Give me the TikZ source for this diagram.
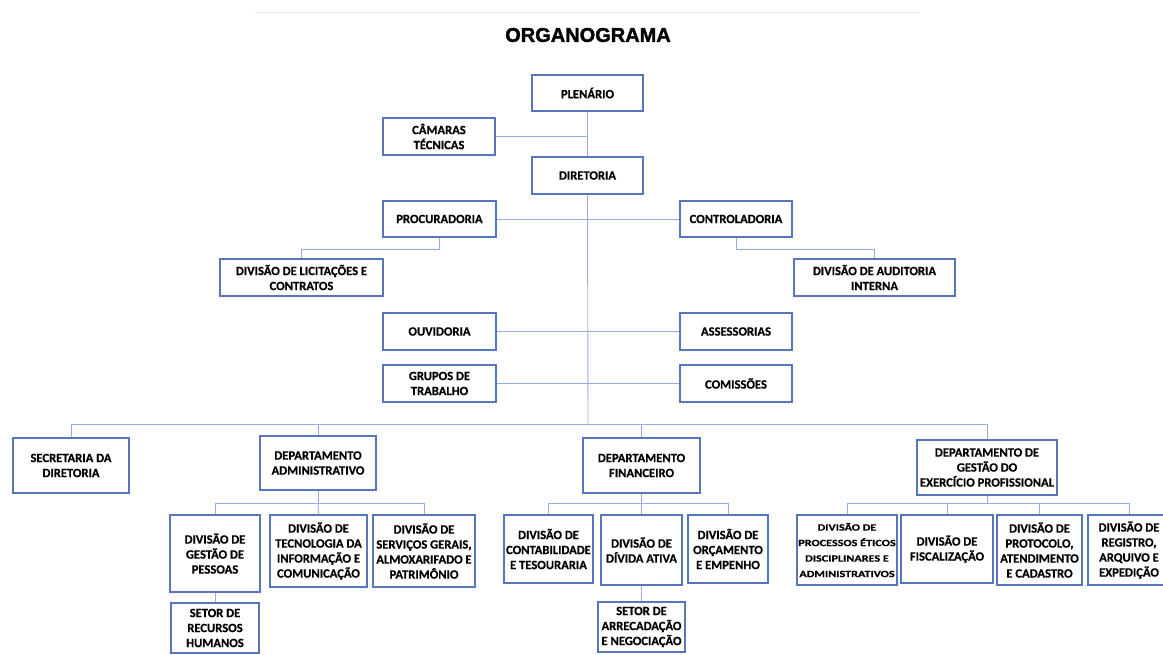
\documentclass[tikz,border=0pt]{standalone}
\usepackage{fontspec}
\setmainfont{Carlito}[BoldFeatures={FakeBold=0.5}]
\newfontfamily\titlefont{Liberation Sans}[BoldFeatures={FakeBold=1.6}]
\newfontfamily\widefont{Carlito}[FakeStretch=1.28, BoldFeatures={FakeBold=0.5}]
\definecolor{boxblue}{RGB}{88,118,190}
\definecolor{lineblue}{RGB}{150,175,222}
\begin{document}
\begin{tikzpicture}[x=1pt,y=-1pt,
  box/.style={draw=boxblue, line width=1.2pt, fill=white, rectangle, align=center,
    inner sep=1pt, font=\bfseries\fontsize{12.6}{15}\selectfont},
  conn/.style={draw=lineblue, line width=0.9pt}]
\useasboundingbox (0,0) rectangle (1163,655);
\draw[gray!20, line width=0.8pt] (255,12) -- (920,12);
\node[font=\titlefont\bfseries\fontsize{20}{24}\selectfont] (title) at (588,35) {ORGANOGRAMA};

% boxes
\node[box, minimum width=111pt, minimum height=36pt] (plen) at (587.5,93) {PLENÁRIO};
\node[box, minimum width=112pt, minimum height=37pt] (cam) at (439,136.5) {CÂMARAS\\TÉCNICAS};
\node[box, minimum width=111pt, minimum height=37pt] (dir) at (587.5,175.5) {DIRETORIA};
\node[box, minimum width=113pt, minimum height=36pt] (proc) at (439.5,219) {PROCURADORIA};
\node[box, minimum width=112pt, minimum height=36pt] (ctrl) at (736,219) {CONTROLADORIA};
\node[box, minimum width=163pt, minimum height=37pt] (lic) at (301.5,277.5) {DIVISÃO DE LICITAÇÕES E\\CONTRATOS};
\node[box, minimum width=161pt, minimum height=37pt] (aud) at (874.5,277.5) {DIVISÃO DE AUDITORIA\\INTERNA};
\node[box, minimum width=113pt, minimum height=37pt] (ouv) at (439.5,331.5) {OUVIDORIA};
\node[box, minimum width=112pt, minimum height=37pt] (ass) at (736,331.5) {ASSESSORIAS};
\node[box, minimum width=113pt, minimum height=37pt] (grp) at (439.5,383.5) {GRUPOS DE\\TRABALHO};
\node[box, minimum width=112pt, minimum height=37pt] (com) at (736,383.5) {COMISSÕES};

\node[box, minimum width=116pt, minimum height=55pt] (sec) at (71,465.5) {SECRETARIA DA\\DIRETORIA};
\node[box, minimum width=116pt, minimum height=54pt] (adm) at (318,463) {DEPARTAMENTO\\ADMINISTRATIVO};
\node[box, minimum width=117pt, minimum height=55pt] (fin) at (641.5,465.5) {DEPARTAMENTO\\FINANCEIRO};
\node[box, minimum width=140pt, minimum height=55pt] (gep) at (987,467.5) {DEPARTAMENTO DE\\GESTÃO DO\\EXERCÍCIO PROFISSIONAL};

\node[box, minimum width=90pt, minimum height=77pt] (gesp) at (215,553.5) {DIVISÃO DE\\GESTÃO DE\\PESSOAS};
\node[box, minimum width=97pt, minimum height=72pt] (tec) at (318.5,551) {DIVISÃO DE\\TECNOLOGIA DA\\INFORMAÇÃO E\\COMUNICAÇÃO};
\node[box, minimum width=102pt, minimum height=72pt] (serv) at (424,551) {DIVISÃO DE\\SERVIÇOS GERAIS,\\ALMOXARIFADO E\\PATRIMÔNIO};
\node[box, minimum width=88pt, minimum height=50pt] (rh) at (215,628) {SETOR DE\\RECURSOS\\HUMANOS};

\node[box, minimum width=89pt, minimum height=68pt] (cont) at (548.5,549) {DIVISÃO DE\\CONTABILIDADE\\E TESOURARIA};
\node[box, minimum width=81pt, minimum height=70pt] (divat) at (641.5,550) {DIVISÃO DE\\DÍVIDA ATIVA};
\node[box, minimum width=80pt, minimum height=68pt] (orc) at (728,549) {DIVISÃO DE\\ORÇAMENTO\\E EMPENHO};
\node[box, minimum width=87pt, minimum height=50pt] (arr) at (641.5,627) {SETOR DE\\ARRECADAÇÃO\\E NEGOCIAÇÃO};

\node[box, minimum width=100pt, minimum height=70pt, font=\widefont\bfseries\fontsize{9.5}{15.5}\selectfont] (etic) at (847,550) {DIVISÃO DE\\PROCESSOS ÉTICOS\\DISCIPLINARES E\\ADMINISTRATIVOS};
\node[box, minimum width=92pt, minimum height=68pt] (fisc) at (947,549) {DIVISÃO DE\\FISCALIZAÇÃO};
\node[box, minimum width=85pt, minimum height=70pt] (prot) at (1039.5,550) {DIVISÃO DE\\PROTOCOLO,\\ATENDIMENTO\\E CADASTRO};
\node[box, minimum width=82pt, minimum height=70pt] (reg) at (1129,550) {DIVISÃO DE\\REGISTRO,\\ARQUIVO E\\EXPEDIÇÃO};

% junction coordinates
\coordinate (mb) at (588,424);
\coordinate (ba) at (318,503);
\coordinate (bf) at (641.5,503);
\coordinate (bg) at (987,503);

% connectors
\draw[conn] (plen.south) -- (dir.north);
\draw[conn] (cam.east) -- (cam.east -| plen.south);
\draw[conn] (dir.south) -- (mb);
\draw[conn] (proc.east) -- (ctrl.west);
\draw[conn] (ouv.east) -- (ass.west);
\draw[conn] (grp.east) -- (com.west);
\draw[conn] (proc.south) -- ++(0,11.5) -| (lic.north);
\draw[conn] (ctrl.south) -- ++(0,11.5) -| (aud.north);
\draw[conn] (mb) -| (sec.north);
\draw[conn] (mb) -| (adm.north);
\draw[conn] (mb) -| (fin.north);
\draw[conn] (mb) -| (gep.north);

\draw[conn] (adm.south) -- (ba);
\draw[conn] (ba) -| (gesp.north);
\draw[conn] (ba) -- (tec.north);
\draw[conn] (ba) -| (serv.north);
\draw[conn] (gesp.south) -- (rh.north);

\draw[conn] (fin.south) -- (bf);
\draw[conn] (bf) -| (cont.north);
\draw[conn] (bf) -- (divat.north);
\draw[conn] (bf) -| (orc.north);
\draw[conn] (divat.south) -- (arr.north);

\draw[conn] (gep.south) -- (bg);
\draw[conn] (bg) -| (etic.north);
\draw[conn] (bg) -| (fisc.north);
\draw[conn] (bg) -| (prot.north);
\draw[conn] (bg) -| (reg.north);
\end{tikzpicture}
\end{document}
